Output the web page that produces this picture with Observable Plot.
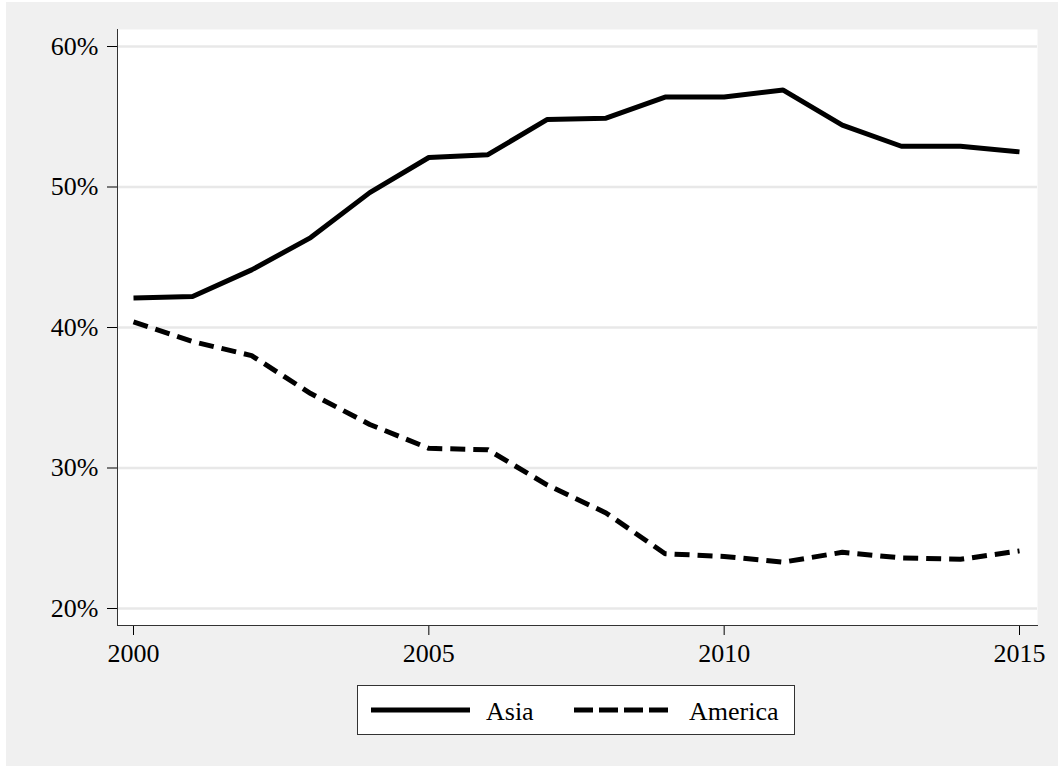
<!DOCTYPE html>
<html><head><meta charset="utf-8">
<script src="https://cdn.jsdelivr.net/npm/d3@7"></script>
<script src="https://cdn.jsdelivr.net/npm/@observablehq/plot@0.6"></script>
<style>
body{margin:0;background:#fff;}
#bg{position:absolute;left:6px;top:2px;width:1052px;height:764px;background:#f0f0f0;}
#chart{position:absolute;left:0;top:0;}
#legend{position:absolute;left:357px;top:685px;width:436px;height:48px;background:#fff;border:1px solid #333;}
</style></head><body>
<div id="bg"></div><div id="chart"></div><div id="legend"></div>
<script>
const years = [2000,2001,2002,2003,2004,2005,2006,2007,2008,2009,2010,2011,2012,2013,2014,2015];
const asia = [42.1,42.2,44.1,46.4,49.6,52.1,52.3,54.8,54.9,56.4,56.4,56.9,54.4,52.9,52.9,52.5];
const america = [40.4,39.0,38.0,35.3,33.1,31.4,31.3,28.8,26.8,23.9,23.7,23.3,24.0,23.6,23.5,24.1];
const seriesNames = ["Asia","America"];
const yTicks = [20,30,40,50,60];
const xTicks = [2000,2005,2010,2015];

const font = '"Liberation Serif","Times New Roman",serif';
const asiaData = years.map((y,i)=>({year:y, value:asia[i], series:seriesNames[0]}));
const americaData = years.map((y,i)=>({year:y, value:america[i], series:seriesNames[1]}));

const plot = Plot.plot({
  width:1058, height:680,
  marginLeft:117, marginRight:21, marginTop:29, marginBottom:55,
  style:{background:"transparent", fontFamily:font, fontSize:"26px", color:"#000"},
  x:{domain:[2000,2015], range:[133,1019], ticks:xTicks, tickFormat:d=>String(d), tickSize:10, tickPadding:8, label:null},
  y:{domain:[20,60], range:[608,46], ticks:yTicks, tickFormat:d=>d+"%", tickSize:10, tickPadding:9, label:null},
  marks:[
    Plot.frame({fill:"white", stroke:"none"}),
    Plot.ruleY(yTicks,{stroke:"#e8e8e8", strokeWidth:2.5}),
    Plot.frame({anchor:"left", stroke:"#333"}),
    Plot.frame({anchor:"bottom", stroke:"#333"}),
    Plot.line(asiaData,{x:"year", y:"value", stroke:"black", strokeWidth:5, strokeLinejoin:"miter", strokeLinecap:"butt"}),
    Plot.line(americaData,{x:"year", y:"value", stroke:"black", strokeWidth:5, strokeLinejoin:"miter", strokeLinecap:"butt", strokeDasharray:"15,8"})
  ]
});
document.getElementById("chart").appendChild(plot);

const lg = d3.select("#legend").append("svg").attr("width",436).attr("height",48)
  .style("font-family",font).style("font-size","26px");
lg.append("line").attr("x1",13).attr("x2",112).attr("y1",24).attr("y2",24).attr("stroke","black").attr("stroke-width",5);
lg.append("text").attr("x",128).attr("y",34).text(seriesNames[0]);
lg.append("line").attr("x1",216).attr("x2",315).attr("y1",24).attr("y2",24).attr("stroke","black").attr("stroke-width",5).attr("stroke-dasharray","19,6");
lg.append("text").attr("x",331).attr("y",34).text(seriesNames[1]);
</script>
</body></html>
